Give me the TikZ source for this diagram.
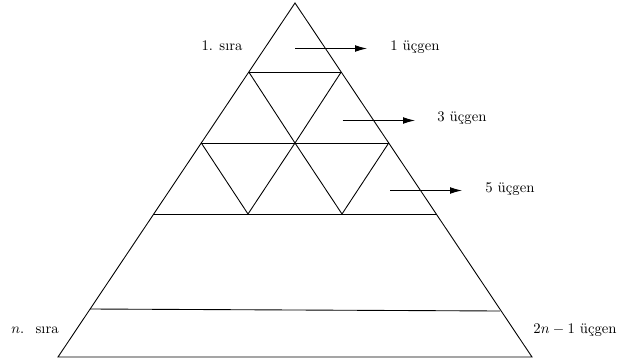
\documentclass[tikz,border=0pt]{standalone}
\usepackage{fontspec}
\usetikzlibrary{arrows.meta}
\begin{document}
\begin{tikzpicture}[x=0.68pt,y=-0.68pt,line width=0.6pt,
  arr/.style={-{Latex[length=8pt,width=4.5pt]}},
  lbl/.style={inner sep=0pt,font=\normalsize}]
\useasboundingbox (0,0) rectangle (617,358);
% main triangle
\coordinate (A) at (295,3);
\coordinate (BL) at (58,357);
\coordinate (BR) at (532,357);
\draw (A) -- (BL) -- (BR) -- cycle;
% row lines
\coordinate (L1) at (248.8,72); \coordinate (R1) at (341.2,72);
\coordinate (L2) at (201.3,143); \coordinate (R2) at (388.7,143);
\coordinate (L3) at (154,214); \coordinate (R3) at (436,214);
\coordinate (L4) at (90,309); \coordinate (R4) at (500,311);
\coordinate (M2) at (295,143);
\coordinate (P3) at (248,214); \coordinate (Q3) at (342,214);
\draw (L1) -- (R1);
\draw (L2) -- (R2);
\draw (L3) -- (R3);
\draw (L4) -- (R4);
% inner triangles
\draw (L1) -- (M2) -- (R1);
\draw (L2) -- (P3) -- (M2) -- (Q3) -- (R2);
% arrows
\coordinate (a1s) at (295,48.5); \coordinate (a1e) at (367,48.5);
\coordinate (a2s) at (342.5,120.5); \coordinate (a2e) at (415,120.5);
\coordinate (a3s) at (390,190.5); \coordinate (a3e) at (462,190.5);
\draw[arr] (a1s) -- (a1e);
\draw[arr] (a2s) -- (a2e);
\draw[arr] (a3s) -- (a3e);
% labels
\node[lbl] (t1) at (222,46) {1. sıra};
\node[lbl] (u1) at (415,47) {1 üçgen};
\node[lbl] (u3) at (462,118) {3 üçgen};
\node[lbl] (u5) at (510,189) {5 üçgen};
\node[lbl] (tn) at (35,330) {$n$. \ sıra};
\node[lbl] (un) at (575,330) {$2n-1$ üçgen};
\end{tikzpicture}
\end{document}
